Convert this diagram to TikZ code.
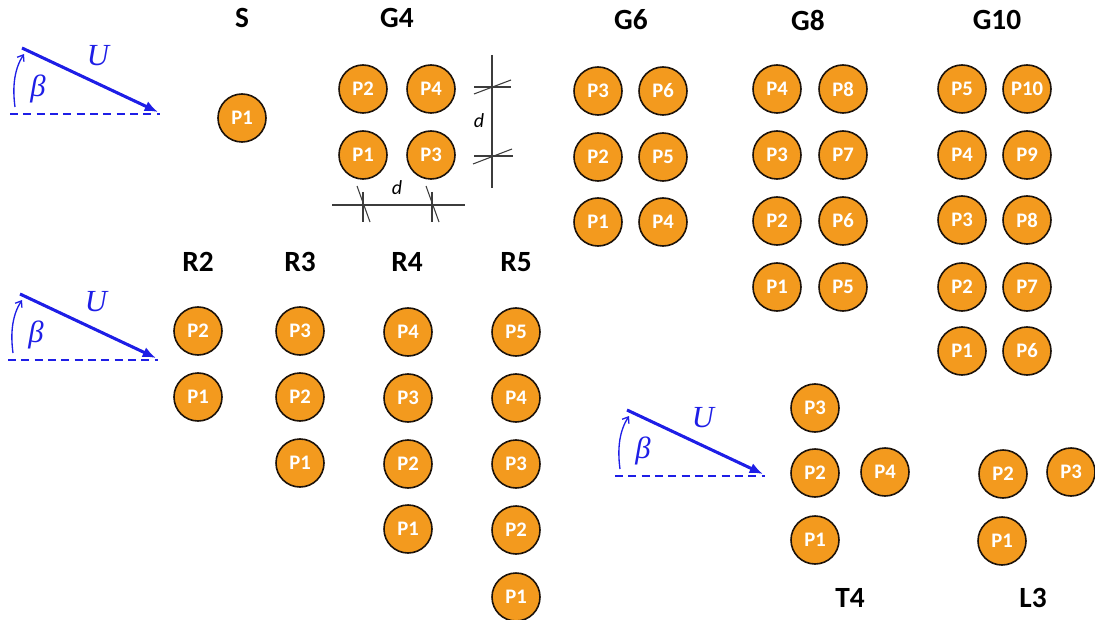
\documentclass[tikz,border=0pt]{standalone}
\usepackage{fontspec}
\setsansfont{Carlito}
\newfontfamily\windfont{Liberation Serif}
\usetikzlibrary{arrows.meta}
\definecolor{pileorange}{HTML}{F39A1E}
\definecolor{windblue}{HTML}{1E1EE6}
\definecolor{dimgray}{HTML}{3C3C3C}
\tikzset{
  pile/.style={circle,draw=black!85!brown,line width=1.2pt,fill=pileorange,minimum size=36pt,inner sep=0pt,
    text=white,font=\sffamily\bfseries\fontsize{15.5}{17}\selectfont},
  grouplabel/.style={font=\sffamily\bfseries\fontsize{22}{26}\selectfont},
  windarrow/.style={windblue,line width=2.3pt,-{Latex[length=10pt,width=8pt]}},
  windbase/.style={windblue,line width=1pt,dashed,dash pattern=on 6pt off 4pt},
  windarc/.style={windblue,line width=1pt,-{Straight Barb[length=4pt,width=6pt]}},
  windtext/.style={windblue,font=\windfont\itshape\fontsize{23}{26}\selectfont},
  dimline/.style={dimgray,line width=0.8pt},
  dimtext/.style={font=\sffamily\itshape\fontsize{15}{17}\selectfont}
}
\begin{document}
\begin{tikzpicture}[x=0.75pt,y=-0.75pt]
\useasboundingbox (0,0) rectangle (1095,620);
% ---- wind arrows ----
\foreach \ox/\oy/\n in {0/0/a,-2/246/b,605/362/c}{
  \begin{scope}[shift={(\ox,\oy)}]
  \coordinate (ws\n) at (22,48);
  \coordinate (we\n) at (158,112);
  \coordinate (bs\n) at (10,114);
  \coordinate (be\n) at (160,114);
  \draw[windarrow] (ws\n) -- (we\n);
  \draw[windbase] (bs\n) -- (be\n);
  \draw[windarc] (15,107) .. controls (12,85) and (15,68) .. (24,54);
  \node[windtext] (U\n) at (98,56) {U};
  \node[windtext] (beta\n) at (38,89) {β};
  \end{scope}
}
% ---- group labels ----
\node[grouplabel] (lS) at (242,18) {S};
\node[grouplabel] (lG4) at (397,18) {G4};
\node[grouplabel] (lG6) at (631,20) {G6};
\node[grouplabel] (lG8) at (808,20) {G8};
\node[grouplabel] (lG10) at (997,20) {G10};
\node[grouplabel] (lR2) at (198,262) {R2};
\node[grouplabel] (lR3) at (300,262) {R3};
\node[grouplabel] (lR4) at (407,262) {R4};
\node[grouplabel] (lR5) at (516,262) {R5};
\node[grouplabel] (lT4) at (850,598) {T4};
\node[grouplabel] (lL3) at (1033,598) {L3};
% ---- S ----
\node[pile] (s1) at (242,118) {P1};
% ---- G4 ----
\node[pile] (g4p2) at (363,89) {P2};
\node[pile] (g4p4) at (431,89) {P4};
\node[pile] (g4p1) at (363,155) {P1};
\node[pile] (g4p3) at (431,155) {P3};
% dimension lines
\draw[dimline] (492,55) -- (492,188);
\draw[dimline] (474,87) -- (511,87);
\draw[dimline] (474,94) -- (511,80);
\draw[dimline] (474,156) -- (513,156);
\draw[dimline] (473,164) -- (512,149);
\node[dimtext] (dv) at (479,121) {d};
\draw[dimline] (332,205) -- (465,205);
\draw[dimline] (363,192) -- (363,222);
\draw[dimline] (357,186) -- (370,222);
\draw[dimline] (432,192) -- (432,222);
\draw[dimline] (426,186) -- (439,222);
\node[dimtext] (dh) at (397,188) {d};
% ---- G6 ----
\node[pile] (g6p3) at (598,91) {P3};
\node[pile] (g6p6) at (663,91) {P6};
\node[pile] (g6p2) at (598,157) {P2};
\node[pile] (g6p5) at (663,157) {P5};
\node[pile] (g6p1) at (598,222) {P1};
\node[pile] (g6p4) at (663,222) {P4};
% ---- G8 ----
\node[pile] (g8p4) at (777,89) {P4};
\node[pile] (g8p8) at (843,89) {P8};
\node[pile] (g8p3) at (777,155) {P3};
\node[pile] (g8p7) at (843,155) {P7};
\node[pile] (g8p2) at (777,221) {P2};
\node[pile] (g8p6) at (843,221) {P6};
\node[pile] (g8p1) at (777,287) {P1};
\node[pile] (g8p5) at (843,287) {P5};
% ---- G10 ----
\node[pile] (g10p5) at (962,89) {P5};
\node[pile] (g10p10) at (1027,89) {P10};
\node[pile] (g10p4) at (962,155) {P4};
\node[pile] (g10p9) at (1027,155) {P9};
\node[pile] (g10p3) at (962,220) {P3};
\node[pile] (g10p8) at (1027,220) {P8};
\node[pile] (g10p2) at (962,287) {P2};
\node[pile] (g10p7) at (1027,287) {P7};
\node[pile] (g10p1) at (962,351) {P1};
\node[pile] (g10p6) at (1027,351) {P6};
% ---- R2 ----
\node[pile] (r2p2) at (198,331) {P2};
\node[pile] (r2p1) at (198,397) {P1};
% ---- R3 ----
\node[pile] (r3p3) at (300,331) {P3};
\node[pile] (r3p2) at (300,397) {P2};
\node[pile] (r3p1) at (300,463) {P1};
% ---- R4 ----
\node[pile] (r4p4) at (408,332) {P4};
\node[pile] (r4p3) at (408,398) {P3};
\node[pile] (r4p2) at (408,464) {P2};
\node[pile] (r4p1) at (408,529) {P1};
% ---- R5 ----
\node[pile] (r5p5) at (516,332) {P5};
\node[pile] (r5p4) at (516,398) {P4};
\node[pile] (r5p3) at (516,464) {P3};
\node[pile] (r5p2) at (516,530) {P2};
\node[pile] (r5p1) at (516,597) {P1};
% ---- T4 ----
\node[pile] (t4p3) at (815,408) {P3};
\node[pile] (t4p2) at (815,473) {P2};
\node[pile] (t4p4) at (885,472) {P4};
\node[pile] (t4p1) at (815,540) {P1};
% ---- L3 ----
\node[pile] (l3p2) at (1003,474) {P2};
\node[pile] (l3p3) at (1071,472) {P3};
\node[pile] (l3p1) at (1002,541) {P1};
\end{tikzpicture}
\end{document}
